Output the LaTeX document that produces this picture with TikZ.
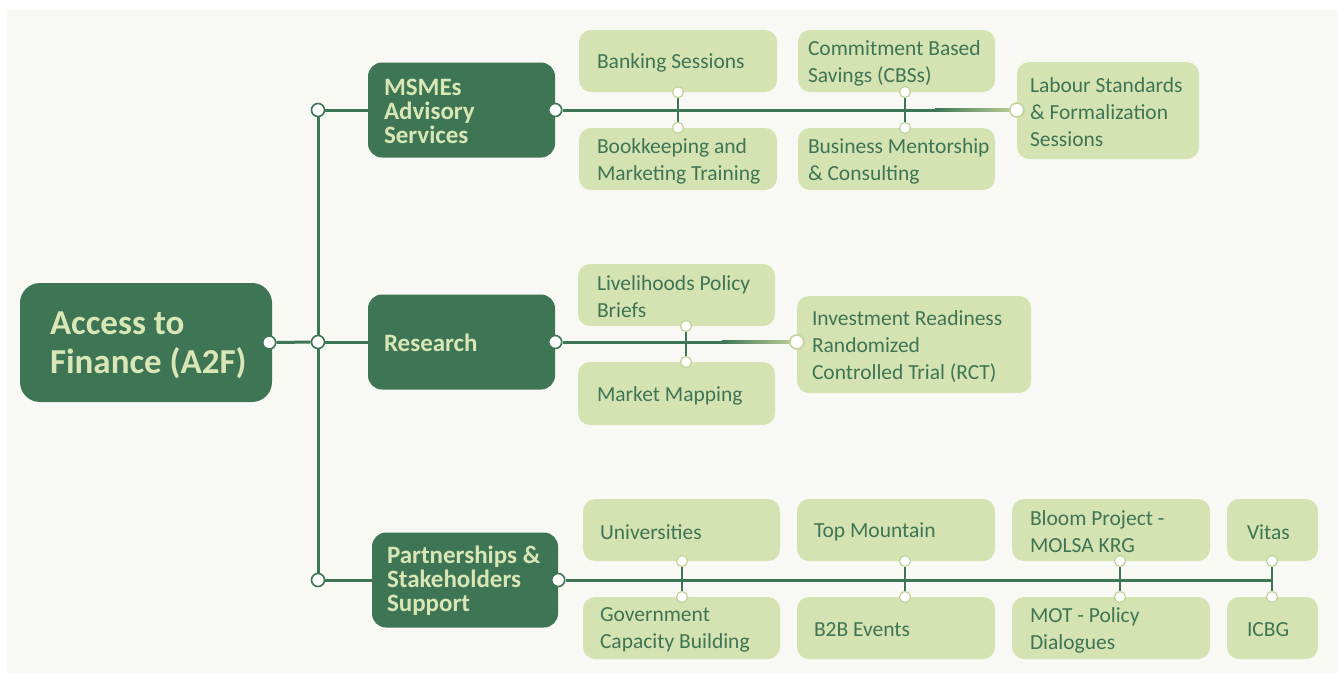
\documentclass[tikz,border=0pt]{standalone}
\usepackage{fontspec}
\setmainfont{Carlito}
\definecolor{dkgreen}{HTML}{3E7555}
\definecolor{ltgreen}{HTML}{D5E2B1}
\definecolor{hdtext}{HTML}{D9E6B6}
\definecolor{panel}{HTML}{F8F9F4}
\definecolor{dotedge}{HTML}{C2D39A}
\pgfdeclarelayer{back}
\pgfdeclarelayer{wires}
\pgfsetlayers{back,wires,main}
\tikzset{
  rootbox/.style={rounded corners=20pt, fill=dkgreen, inner sep=0pt},
  roottext/.style={text=hdtext, font=\fontsize{35}{39}\selectfont\bfseries,
    align=left, inner sep=0pt, anchor=west, yshift=-2.5pt},
  hubbox/.style={rounded corners=14pt, fill=dkgreen, inner sep=0pt,
    minimum height=95pt},
  hubtext/.style={text=hdtext, font=\fontsize{25}{24}\selectfont\bfseries,
    align=left, inner sep=0pt, anchor=west, yshift=-1pt},
  leaf/.style={rounded corners=12pt, fill=ltgreen, inner sep=0pt},
  leaftext/.style={text=dkgreen, font=\fontsize{21.5}{27}\selectfont,
    align=left, inner sep=0pt, anchor=west, yshift=-2pt},
  bigdot/.style={circle, draw=dkgreen, line width=1.6pt, fill=white,
    minimum size=13pt, inner sep=0pt},
  enddot/.style={circle, draw=dotedge, line width=1.6pt, fill=white,
    minimum size=14pt, inner sep=0pt},
  smalldot/.style={circle, draw=dotedge, line width=1.2pt, fill=white,
    minimum size=11pt, inner sep=0pt},
  wire/.style={draw=dkgreen, line width=3pt},
  tick/.style={draw=dkgreen, line width=2.4pt},
}
\begin{document}
\begin{tikzpicture}[x=1pt,y=-1pt]
\useasboundingbox (0,0) rectangle (1338,675);
\begin{pgfonlayer}{back}
  \fill[white] (0,0) rectangle (1338,675);
  \fill[panel] (7,10) rectangle (1338,673);
\end{pgfonlayer}

% root and hubs
\node[rootbox, minimum width=252pt, minimum height=119pt,
  label={[roottext, xshift=30pt]west:{Access to\\Finance (A2F)}}] (root) at (146,342.5) {};
\node[hubbox, minimum width=187pt,
  label={[hubtext, xshift=16pt]west:{MSMEs\\Advisory\\Services}}] (msme) at (461.5,110) {};
\node[hubbox, minimum width=187pt,
  label={[hubtext, xshift=16pt]west:{Research}}] (res) at (461.5,342) {};
\node[hubbox, minimum width=186pt,
  label={[hubtext, xshift=15pt]west:{Partnerships \&\\Stakeholders\\Support}}] (part) at (465,580) {};

% advisory services
\node[leaf, minimum width=198pt, minimum height=62pt,
  label={[leaftext, xshift=18pt]west:{Banking Sessions}}] (bank) at (678,61) {};
\node[leaf, minimum width=198pt, minimum height=62pt,
  label={[leaftext, xshift=18pt]west:{Bookkeeping and\\Marketing Training}}] (book) at (678,159) {};
\node[leaf, minimum width=197pt, minimum height=62pt,
  label={[leaftext, xshift=10pt]west:{Commitment Based\\Savings (CBSs)}}] (cbs) at (896.5,61) {};
\node[leaf, minimum width=197pt, minimum height=62pt,
  label={[leaftext, xshift=10pt]west:{Business Mentorship\\\& Consulting}}] (ment) at (896.5,159) {};
\node[leaf, minimum width=182pt, minimum height=97pt,
  label={[leaftext, xshift=13pt]west:{Labour Standards\\\& Formalization\\Sessions}}] (lab) at (1108,110.5) {};

% research
\node[leaf, minimum width=197pt, minimum height=62pt,
  label={[leaftext, xshift=19pt]west:{Livelihoods Policy\\Briefs}}] (brief) at (676.5,295) {};
\node[leaf, minimum width=197pt, minimum height=63pt,
  label={[leaftext, xshift=19pt]west:{Market Mapping}}] (map) at (676.5,393.5) {};
\node[leaf, minimum width=234pt, minimum height=97pt,
  label={[leaftext, xshift=15pt]west:{Investment Readiness\\Randomized\\Controlled Trial (RCT)}}] (rct) at (914,344.5) {};

% partnerships
\node[leaf, minimum width=197pt, minimum height=62pt,
  label={[leaftext, xshift=17pt]west:{Universities}}] (uni) at (681.5,530) {};
\node[leaf, minimum width=197pt, minimum height=62pt,
  label={[leaftext, xshift=17pt]west:{Government\\Capacity Building}}] (gov) at (681.5,628) {};
\node[leaf, minimum width=198pt, minimum height=62pt,
  label={[leaftext, xshift=17pt]west:{Top Mountain}}] (top) at (896,530) {};
\node[leaf, minimum width=198pt, minimum height=62pt,
  label={[leaftext, xshift=17pt]west:{B2B Events}}] (b2b) at (896,628) {};
\node[leaf, minimum width=198pt, minimum height=62pt,
  label={[leaftext, xshift=18pt]west:{Bloom Project -\\MOLSA KRG}}] (bloom) at (1111,530) {};
\node[leaf, minimum width=198pt, minimum height=62pt,
  label={[leaftext, xshift=18pt]west:{MOT - Policy\\Dialogues}}] (mot) at (1111,628) {};
\node[leaf, minimum width=91pt, minimum height=62pt,
  label={[leaftext, xshift=20pt]west:{Vitas}}] (vit) at (1272.5,530) {};
\node[leaf, minimum width=91pt, minimum height=62pt,
  label={[leaftext, xshift=20pt]west:{ICBG}}] (icbg) at (1272.5,628) {};

% junction dots
\node[bigdot] (r0) at ([xshift=-3pt]root.east) {};
\node[bigdot] (t1) at (318,110) {};
\node[bigdot] (t2) at (318,342) {};
\node[bigdot] (t3) at (318,580) {};
\node[bigdot] (m0) at (msme.east) {};
\node[bigdot] (s0) at (res.east) {};
\node[bigdot] (p0) at (part.east) {};
\node[enddot] (lab0) at (lab.west |- msme.east) {};
\node[enddot] (rct0) at (rct.west |- res.east) {};

\node[smalldot] (bank0) at (bank.south) {};
\node[smalldot] (book0) at (book.north) {};
\node[smalldot] (cbs0) at (905,92) {};
\node[smalldot] (ment0) at (905,128) {};
\node[smalldot] (brief0) at (686,326) {};
\node[smalldot] (map0) at (686,362) {};
\node[smalldot] (uni0) at (682,561) {};
\node[smalldot] (gov0) at (682,597) {};
\node[smalldot] (top0) at (905,561) {};
\node[smalldot] (b2b0) at (905,597) {};
\node[smalldot] (bloom0) at (1120,561) {};
\node[smalldot] (mot0) at (1120,597) {};
\node[smalldot] (vit0) at (1272,561) {};
\node[smalldot] (icbg0) at (1272,597) {};

\coordinate (mfade) at (935,110);
\coordinate (sfade) at (722,342);
\coordinate (pend) at (1272,580);

\begin{pgfonlayer}{wires}
  % trunk
  \draw[wire] (r0) -- (t2);
  \draw[wire] (t1) -- (t2) -- (t3);
  \draw[wire] (t1) -- (msme.west);
  \draw[wire] (t2) -- (res.west);
  \draw[wire] (t3) -- (part.west);
  % branch lines, fading out towards the last item
  \draw[wire] (m0) -- ([xshift=0.5pt]mfade);
  \shade[left color=dkgreen, right color=dotedge]
    ([yshift=1.5pt]mfade) rectangle ([yshift=-1.5pt]lab0.center);
  \draw[wire] (s0) -- ([xshift=0.5pt]sfade);
  \shade[left color=dkgreen, right color=dotedge]
    ([yshift=1.5pt]sfade) rectangle ([yshift=-1.5pt]rct0.center);
  \draw[wire] (p0) -- (pend);
  % ticks to the paired items
  \draw[tick] (bank0) -- (book0);
  \draw[tick] (cbs0) -- (ment0);
  \draw[tick] (brief0) -- (map0);
  \draw[tick] (uni0) -- (gov0);
  \draw[tick] (top0) -- (b2b0);
  \draw[tick] (bloom0) -- (mot0);
  \draw[tick] (vit0) -- (icbg0);
\end{pgfonlayer}
\end{tikzpicture}
\end{document}
